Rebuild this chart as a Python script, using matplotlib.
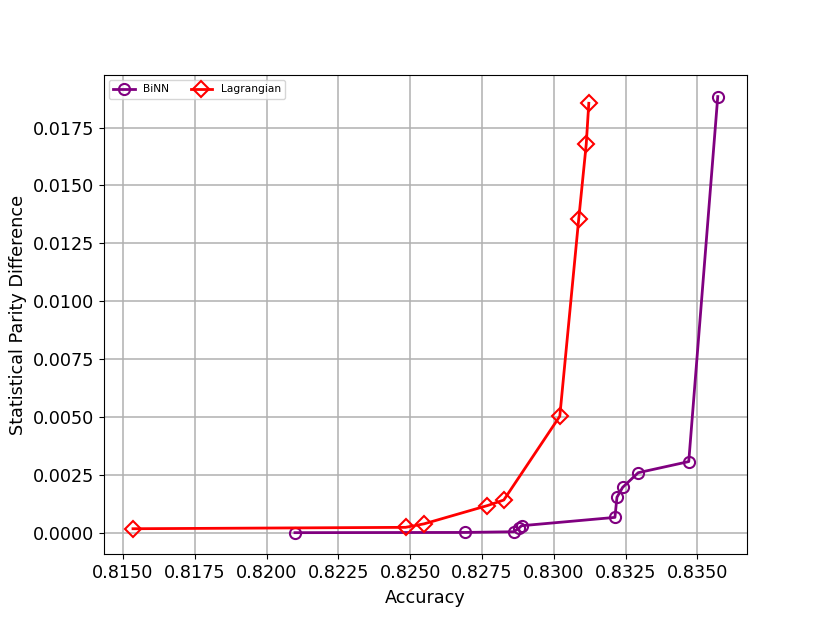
import matplotlib
matplotlib.use("Agg")
import matplotlib.pyplot as plt

# Lagrangian baseline
lag_acc = [0.81535, 0.82484, 0.82548, 0.82769, 0.82826, 0.83021, 0.83087, 0.83113, 0.83122]
lag_spd = [0.00017, 0.00023, 0.00038, 0.00117, 0.00141, 0.00503, 0.01356, 0.01677, 0.01855]

# BiNN
binn_acc = [0.82099, 0.82690, 0.82861, 0.82878, 0.82888, 0.83213, 0.83220, 0.83240, 0.83294, 0.83470, 0.83571]
binn_spd = [0.00000, 0.00001, 0.00004, 0.00019, 0.00030, 0.00066, 0.00153, 0.00196, 0.00259, 0.00307, 0.01884]


def main():
    fig, ax = plt.subplots(figsize=(8.3, 6.23), dpi=100)
    ax.plot(binn_acc, binn_spd, "-o", color="purple", lw=2, ms=8,
            mfc="none", mew=1.5, label="BiNN")
    ax.plot(lag_acc, lag_spd, "-D", color="red", lw=2, ms=8,
            mfc="none", mew=1.5, label="Lagrangian")
    ax.grid(True, lw=1.1, color="#b0b0b0")
    ax.set_axisbelow(True)
    ax.set_xlabel("Accuracy", fontsize=12.7, labelpad=5)
    ax.set_ylabel("Statistical Parity Difference", fontsize=12.7)
    ax.set_xticks([0.8150, 0.8175, 0.8200, 0.8225, 0.8250, 0.8275, 0.8300, 0.8325, 0.8350])
    ax.tick_params(labelsize=12.7)
    ax.legend(loc="upper left", ncol=2, fontsize=7.7)
    fig.savefig("out.png")


if __name__ == "__main__":
    main()
